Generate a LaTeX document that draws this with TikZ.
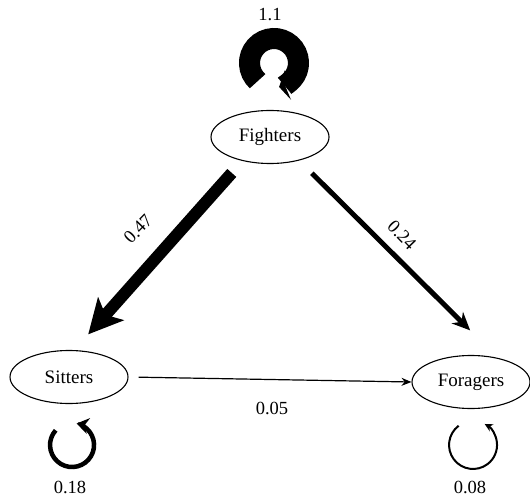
\documentclass[tikz,border=0pt]{standalone}
\usepackage{fontspec}
\setmainfont{Liberation Serif}
\usetikzlibrary{shapes.geometric, arrows.meta, calc}

\begin{document}
\begin{tikzpicture}[x=1pt, y=1pt,
  caste/.style={ellipse, draw, line width=1.1pt, minimum width=118pt, minimum height=53pt, inner sep=0pt, font=\fontsize{19}{21}\selectfont},
  rate/.style={font=\fontsize{18.5}{20}\selectfont}]
\useasboundingbox (0,0) rectangle (530,499);

\node[caste] (fig) at (270,362) {Fighters};
\node[caste] (sit) at (69,122) {Sitters};
\node[caste] (forg) at (471,117) {Foragers};

\coordinate (figloop) at ($(fig.center)+(-12.4,55.8)$);
\coordinate (sitloop) at ($(sit.center)+(-13.3,-53.3)$);
\coordinate (forgloop) at ($(forg.center)+(-12.4,-43.8)$);

\draw[line width=21pt, -{Stealth[length=9pt,width=30pt]}] (figloop) arc[start angle=228, end angle=-78, radius=24.5pt];
\draw[line width=4.5pt, -{Stealth[length=12pt,width=16pt]}] (sitloop) arc[start angle=138, end angle=438, radius=22pt];
\draw[line width=2pt, -{Stealth[length=8pt,width=8pt]}] (forgloop) arc[start angle=127, end angle=421, radius=24pt];

\draw[line width=12pt, -{Stealth[length=34pt,width=34pt,inset=8pt]}, shorten <=16pt, shorten >=21pt] (fig.221) -- (sit.79);
\draw[line width=5pt, -{Stealth[length=18pt,width=16pt]}, shorten <=18pt, shorten >=39pt] (fig.321) -- (forg.42);
\draw[line width=1.2pt, -{Stealth[length=10pt,width=8pt]}, shorten <=10pt] (sit.east) -- (forg.west);

\node[rate] (r11) at (270,484) {1.1};
\node[rate, rotate=46] (r47) at (138,270) {0.47};
\node[rate, rotate=-46] (r24) at (402,264) {0.24};
\node[rate] (r05) at (272,91) {0.05};
\node[rate] (r18) at (70,12) {0.18};
\node[rate] (r08) at (470,12) {0.08};
\end{tikzpicture}
\end{document}
